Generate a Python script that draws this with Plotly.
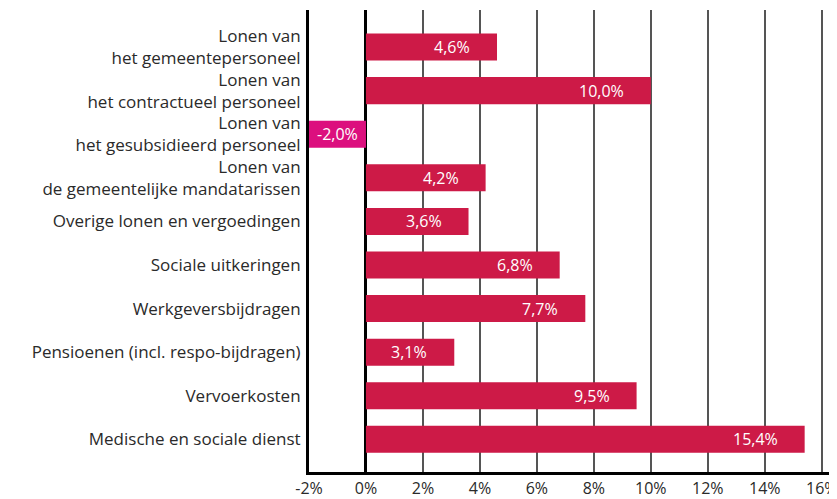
import plotly.graph_objects as go

categorieen = [
    "Lonen van<br>het gemeentepersoneel",
    "Lonen van<br>het contractueel personeel",
    "Lonen van<br>het gesubsidieerd personeel",
    "Lonen van<br>de gemeentelijke mandatarissen",
    "Overige lonen en vergoedingen",
    "Sociale uitkeringen",
    "Werkgeversbijdragen",
    "Pensioenen (incl. respo-bijdragen)",
    "Vervoerkosten",
    "Medische en sociale dienst",
]
waarden = [4.6, 10.0, -2.0, 4.2, 3.6, 6.8, 7.7, 3.1, 9.5, 15.4]
x_ticks = [-2, 0, 2, 4, 6, 8, 10, 12, 14, 16]

ROOD = "#CD1A47"
ROZE = "#DC0F7E"
kleuren = [ROZE if v < 0 else ROOD for v in waarden]
labels = [f"{v:.1f}".replace(".", ",") + "%" for v in waarden]

fig = go.Figure()
fig.add_trace(go.Bar(
    x=waarden, y=categorieen, orientation="h",
    marker=dict(color=kleuren, line=dict(width=0)),
    width=0.62, hoverinfo="skip",
))

# waardelabels binnen de balk, rechts uitgelijnd
for cat, v, lab in zip(categorieen, waarden, labels):
    if v < 0:
        fig.add_annotation(x=v / 2, y=cat, text=lab, showarrow=False,
                           xanchor="center", font=dict(color="white", size=16))
    else:
        fig.add_annotation(x=v, y=cat, text=lab, showarrow=False,
                           xanchor="right", xshift=-25,
                           font=dict(color="white", size=16))

# pagina heeft 8px body-marge, dus figuur iets kleiner
fig.update_layout(
    width=829, height=491,
    margin=dict(l=301, r=0, t=2, b=22),
    plot_bgcolor="white", paper_bgcolor="white",
    font=dict(family="Open Sans", size=17, color="#2a2a2a"),
    showlegend=False,
    xaxis=dict(
        range=[-2, 16.5], tickvals=x_ticks,
        ticktext=[f"{t}%" for t in x_ticks],
        showgrid=True, gridcolor="#555555", gridwidth=1.5,
        zeroline=True, zerolinecolor="black", zerolinewidth=3,
        showline=True, linecolor="black", linewidth=3,
        ticks="", tickfont=dict(size=16),
        ticklabeloverflow="allow",
    ),
    yaxis=dict(
        autorange=False, range=[9.75, -0.85],
        showgrid=False, zeroline=False,
        showline=True, linecolor="black", linewidth=3,
        ticks="", ticklabelstandoff=2,
    ),
)

fig.write_html("out.html")
